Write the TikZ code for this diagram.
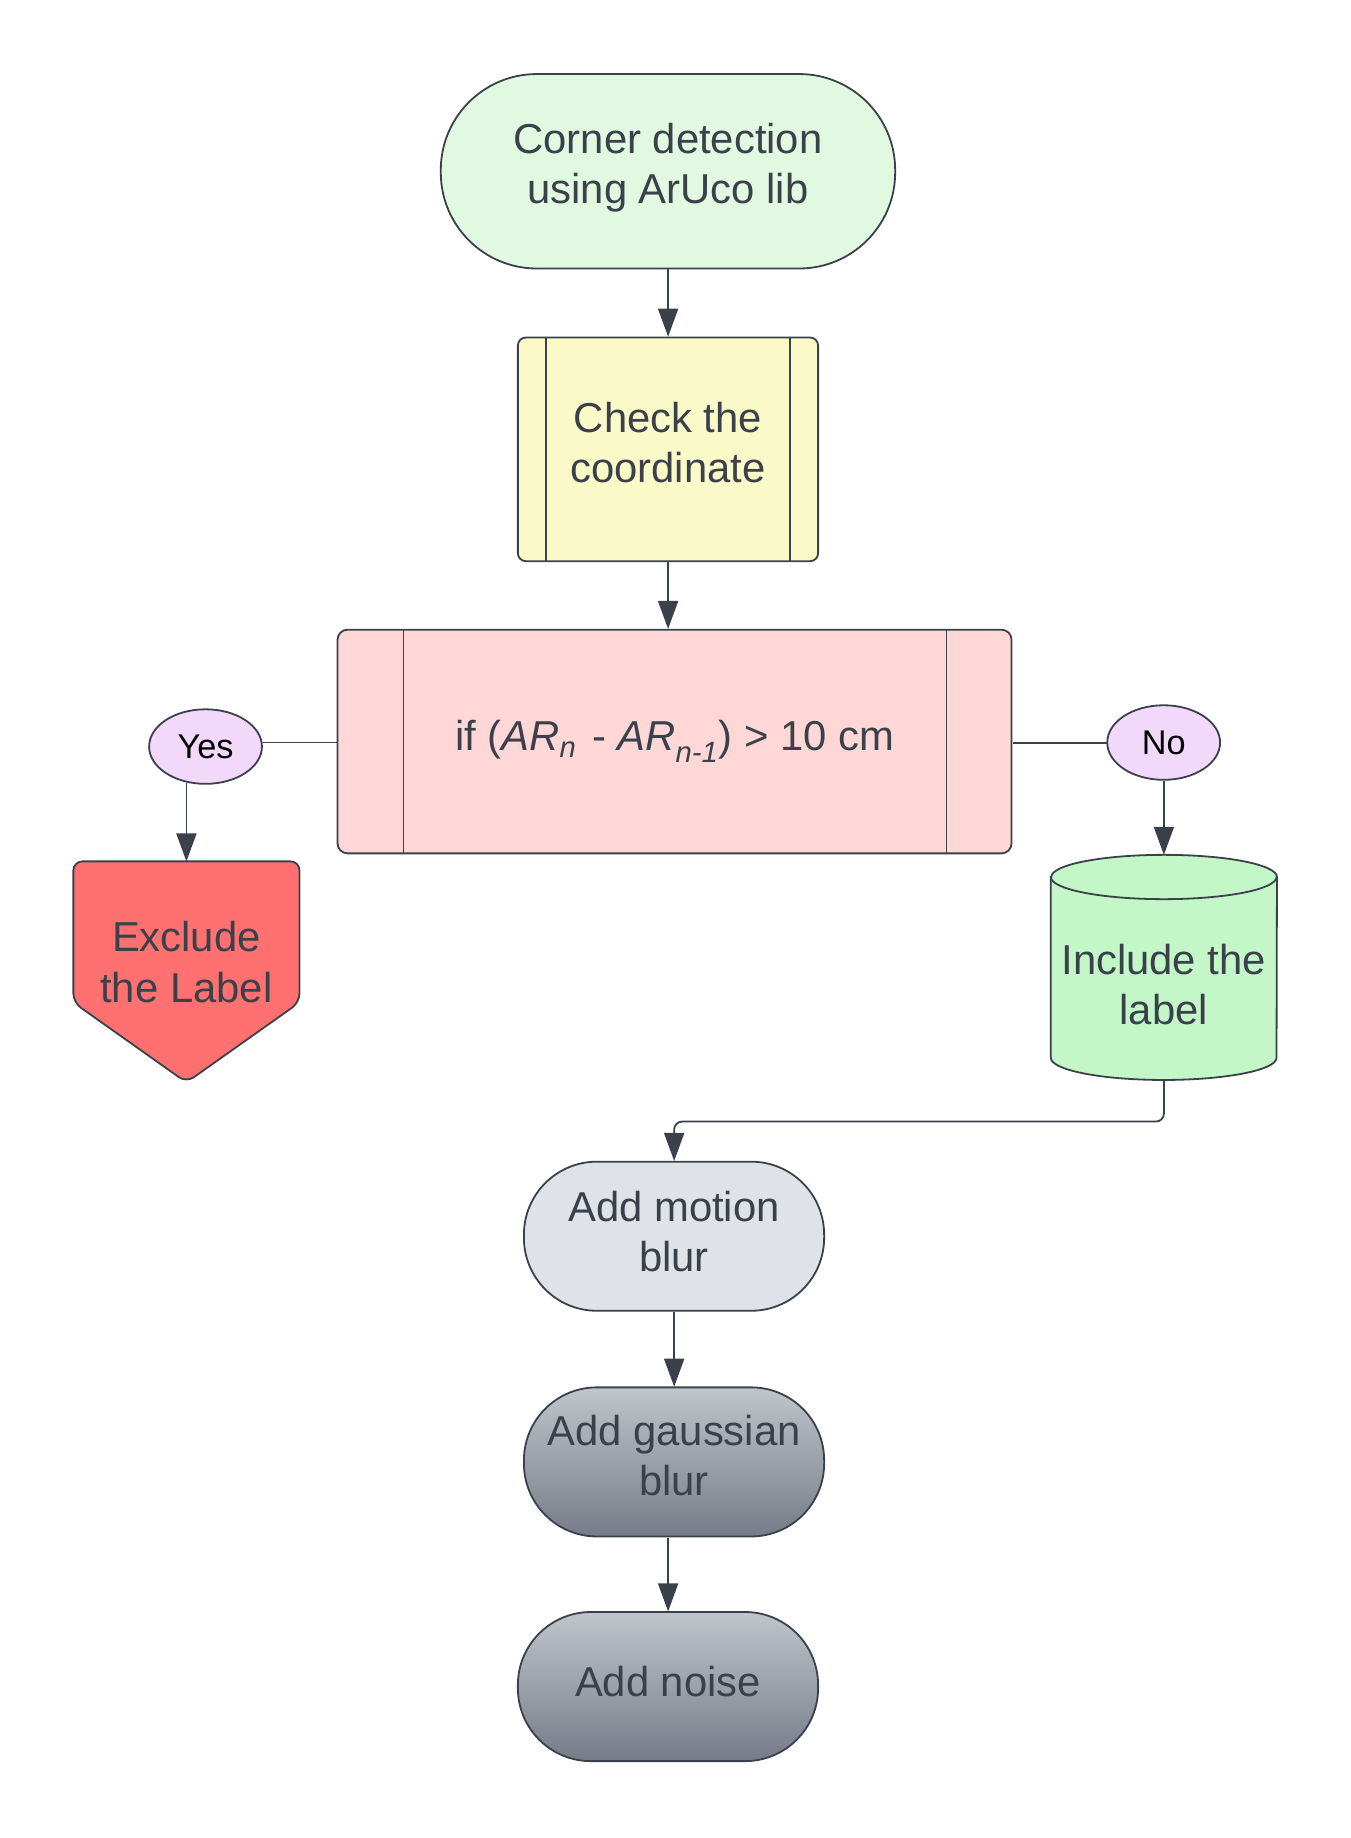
\documentclass[tikz,border=0pt]{standalone}
\usepackage{fontspec}
\setmainfont{Liberation Sans}
\usetikzlibrary{arrows.meta,calc,shapes.geometric}
\definecolor{ink}{HTML}{3A414A}
\definecolor{startg}{HTML}{E1F9E1}
\definecolor{checky}{HTML}{FAFAC8}
\definecolor{decp}{HTML}{FFD7D7}
\definecolor{lav}{HTML}{F2D9FB}
\definecolor{exred}{HTML}{FF7070}
\definecolor{incg}{HTML}{C3F7C8}
\definecolor{motg}{HTML}{DFE3E8}
\definecolor{gtop}{HTML}{C0C4CB}
\definecolor{gmid}{HTML}{A5AAB3}
\definecolor{gbot}{HTML}{767C88}
\newcommand{\lifttext}[2]{\raisebox{#1}[\height][\depth]{\begin{tabular}{@{}c@{}}#2\end{tabular}}}
\begin{document}
\begin{tikzpicture}[x=1pt,y=1pt,
  box/.style={draw=ink, line width=1.8pt, text=ink,
    font=\fontsize{41.5}{50}\selectfont, inner sep=0pt},
  txt/.style={text=ink, align=center, font=\fontsize{41.5}{50}\selectfont, inner sep=0pt},
  lab/.style={draw=ink, line width=1.8pt, fill=lav, ellipse, minimum width=112pt,
    minimum height=74pt, inner sep=0pt, font=\fontsize{34}{40}\selectfont, text=black},
  arr/.style={draw=ink, line width=1.8pt, -{Triangle[length=28pt,width=20pt]}},
  lnk/.style={draw=ink, line width=1.8pt},
  gshade/.style={top color=gtop, middle color=gmid, bottom color=gbot}]
\useasboundingbox[fill=white] (0,0) rectangle (1350,-1838);
\begin{scope}[scale=1.0075, transform shape]
% start
\node[box, fill=startg, rounded corners=96pt, minimum width=451pt, minimum height=193pt]
  (start) at (663,-170) {\lifttext{3pt}{Corner detection\\using ArUco lib}};
% check
\node[box, fill=checky, rounded corners=8pt, minimum width=298pt, minimum height=222pt]
  (check) at (663,-446) {\lifttext{2pt}{Check the\\coordinate}};
\draw[lnk] ($(check.north west)+(29,0)$) -- ($(check.south west)+(29,0)$);
\draw[lnk] ($(check.north east)+(-29,0)$) -- ($(check.south east)+(-29,0)$);
% decision
\node[box, fill=decp, rounded corners=10pt, minimum width=669pt, minimum height=222pt]
  (dec) at (669.5,-736) {\lifttext{1pt}{if (\textit{AR}\textsubscript{\textit{n}}\kern4pt{} - \textit{AR}\textsubscript{\textit{n-1}}) > 10 cm}};
\draw[lnk, line width=1.2pt] ($(dec.north west)+(66,0)$) -- ($(dec.south west)+(66,0)$);
\draw[lnk, line width=1.2pt] ($(dec.north east)+(-66,0)$) -- ($(dec.south east)+(-66,0)$);
% yes / no
\node[lab] (yes) at (204,-741) {Yes};
\node[lab] (no) at (1155,-737) {No};
% exclude
\node[minimum width=224pt, minimum height=219pt, inner sep=0pt] (excl) at (185,-964.5) {};
\draw[draw=ink, line width=1.8pt, fill=exred, rounded corners=9pt]
  (excl.north west) -- (excl.north east) -- ($(excl.north east)+(0,-140)$)
  -- (excl.south) -- ($(excl.north west)+(0,-140)$) -- cycle;
\node[txt] (excltxt) at (185,-955) {Exclude\\the Label};
% include (cylinder)
\node[minimum width=224pt, minimum height=223pt, inner sep=0pt] (incl) at (1155,-960) {};
\draw[draw=ink, line width=1.8pt, fill=incg]
  ($(incl.north west)+(0,-22)$) -- ($(incl.south west)+(0,22)$)
  arc[start angle=180, end angle=360, x radius=112, y radius=22]
  -- ($(incl.north east)+(0,-22)$)
  arc[start angle=0, end angle=180, x radius=112, y radius=22] -- cycle;
\draw[draw=ink, line width=1.8pt]
  ($(incl.north west)+(0,-22)$) arc[start angle=180, end angle=360, x radius=112, y radius=22];
\node[txt] (incltxt) at (1155,-977) {Include the\\label};
% lower chain
\node[box, fill=motg, rounded corners=73pt, minimum width=298pt, minimum height=148pt]
  (motion) at (669,-1227) {\lifttext{0pt}{Add motion\\blur}};
\node[box, gshade, rounded corners=73pt, minimum width=298pt, minimum height=148pt]
  (gauss) at (669,-1451) {\lifttext{1.5pt}{Add gaussian\\blur}};
\node[box, gshade, rounded corners=73pt, minimum width=298pt, minimum height=148pt]
  (noise) at (663,-1674) {\lifttext{0pt}{Add noise}};
\coordinate (turn) at (669,-1113);

% connectors
\draw[arr] (start.south) -- (check.north);
\draw[arr] (check.south) -- (check.south |- dec.north);
\draw[lnk] (yes.east |- 0,-737) -- (dec.west |- 0,-737);
\draw[lnk] (dec.east |- no.west) -- (no.west);
\draw[arr] ($(yes.south -| excl.north)+(0,2)$) -- (excl.north);
\draw[arr] (no.south) -- (incl.north);
\draw[arr, rounded corners=8pt] (incl.south) |- (turn) -- (motion.north);
\draw[arr] (motion.south) -- (gauss.north);
\draw[arr] (gauss.south -| noise.north) -- (noise.north);
\end{scope}
\end{tikzpicture}
\end{document}
